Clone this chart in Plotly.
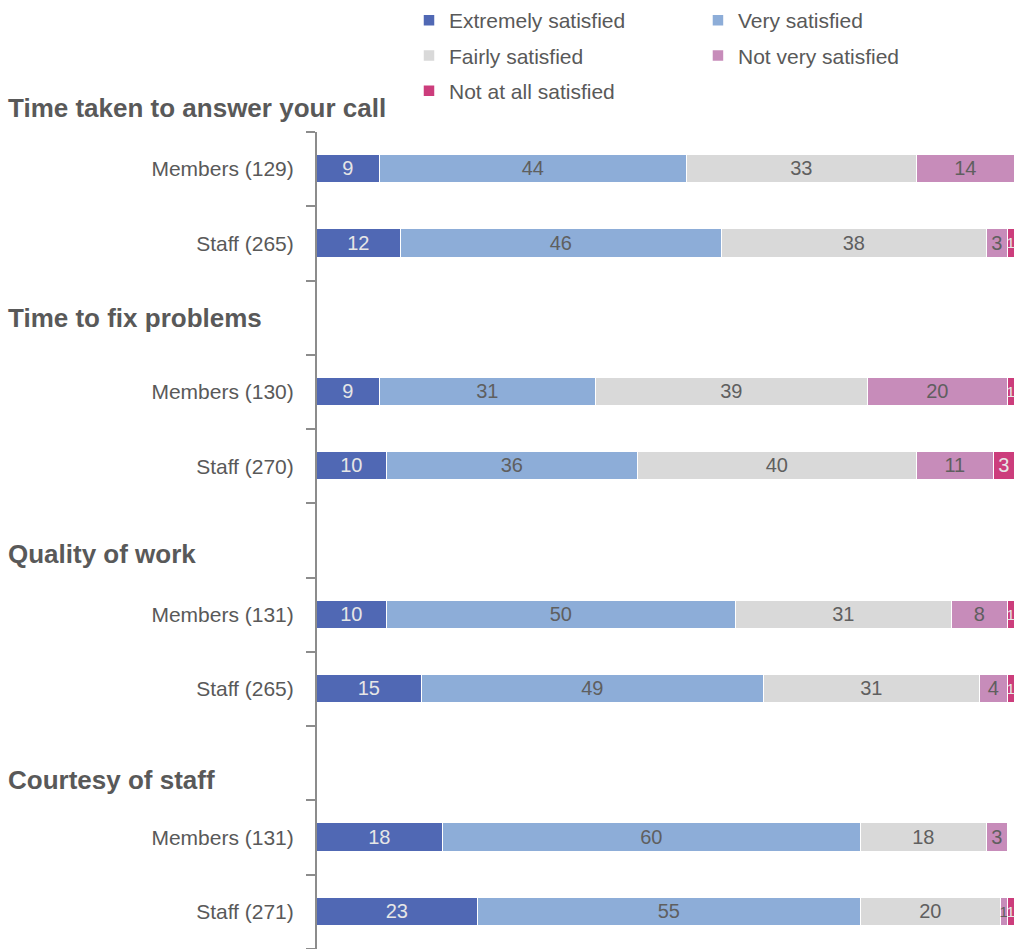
import plotly.graph_objects as go

# Survey groups and the two respondent rows in each
groups = ["Time taken to answer your call", "Time to fix problems",
          "Quality of work", "Courtesy of staff"]
row_labels = ["Members (129)", "Staff (265)",
              "Members (130)", "Staff (270)",
              "Members (131)", "Staff (265)",
              "Members (131)", "Staff (271)"]

# Percentages per rating, one value per row above
extremely = [9, 12, 9, 10, 10, 15, 18, 23]
very = [44, 46, 31, 36, 50, 49, 60, 55]
fairly = [33, 38, 39, 40, 31, 31, 18, 20]
not_very = [14, 3, 20, 11, 8, 4, 3, 1]
not_at_all = [0, 1, 1, 3, 1, 1, 0, 1]

# name, values, bar colour, label colour, legend column
series = [
    ("Extremely satisfied", extremely, "#5068B4", "#E6E6E6", "legend"),
    ("Very satisfied", very, "#8DADD8", "#5F5F5F", "legend2"),
    ("Fairly satisfied", fairly, "#D9D9D9", "#5F5F5F", "legend"),
    ("Not very satisfied", not_very, "#C78CBA", "#5F5F5F", "legend2"),
    ("Not at all satisfied", not_at_all, "#CC3D7C", "#E6E6E6", "legend"),
]

# Each group takes three slots: a blank header slot, then Members and Staff
positions = []
for g in range(len(groups)):
    positions += [3 * g, 3 * g + 1]
n_slots = 3 * len(groups) - 1

font = "Liberation Sans, Arial, sans-serif"
grey = "#595959"

fig = go.Figure()
for name, vals, col, tcol, leg in series:
    fig.add_trace(go.Bar(
        name=name, x=vals, y=positions, orientation="h",
        marker=dict(color=col, line=dict(color="white", width=1.5)),
        width=0.38,
        text=[str(v) if v else "" for v in vals],
        textposition="inside", insidetextanchor="middle", textangle=0,
        constraintext="none",
        # very narrow segments get a slightly smaller label
        textfont=dict(color=tcol, family=font,
                      size=[15 if v < 2 else 20 for v in vals]),
        legend=leg, legendgroup=name,
        hoverinfo="name+x",
    ))

# Group headings to the left of the axis
header_y = [1.0294, 0.7723, 0.4835, 0.2069]
for text, yv in zip(groups, header_y):
    fig.add_annotation(
        text=f"<b>{text}</b>", xref="paper", yref="paper",
        x=-0.446, y=yv, xanchor="left", yanchor="middle", showarrow=False,
        font=dict(size=26, color=grey, family=font),
    )

legend_common = dict(
    orientation="v", yref="container", yanchor="top", y=1.0035, xanchor="left",
    font=dict(size=21, color=grey, family=font),
    tracegroupgap=5, bgcolor="rgba(0,0,0,0)",
)

fig.update_layout(
    width=1016, height=949,
    margin=dict(l=317, r=1, t=132, b=0),
    barmode="stack", bargap=0,
    plot_bgcolor="white", paper_bgcolor="white",
    font=dict(family=font, color=grey, size=20),
    showlegend=True,
    legend=dict(x=0.1318, **legend_common),
    legend2=dict(x=0.5458, **legend_common),
    xaxis=dict(range=[0, 100], visible=False, fixedrange=True),
    yaxis=dict(
        range=[n_slots - 0.5, -0.5],
        tickmode="array", tickvals=positions, ticktext=row_labels,
        ticks="", ticklabelstandoff=17,
        tickfont=dict(size=21, color=grey, family=font),
        showline=True, linecolor="#8C8C8C", linewidth=2,
        showgrid=False, zeroline=False,
        minor=dict(tickmode="linear", tick0=-0.5, dtick=1, ticks="outside",
                   ticklen=9, tickcolor="#8C8C8C", tickwidth=2, showgrid=False),
    ),
)

fig.write_html("out.html")
